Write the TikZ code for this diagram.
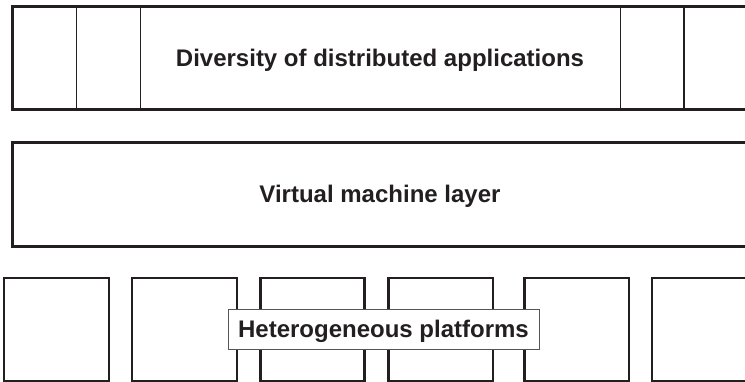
\documentclass[tikz,border=0pt]{standalone}
\usepackage{fontspec}
\setmainfont{Liberation Sans}
\definecolor{ink}{HTML}{231F20}
\definecolor{frame}{HTML}{555555}
\begin{document}
\begin{tikzpicture}[x=1pt,y=-1pt,
  layer/.style={draw=ink,line width=3pt},
  divider/.style={draw=ink,line width=1.6pt},
  platform/.style={draw=ink,line width=2.4pt},
  title/.style={font=\bfseries\fontsize{24}{28}\selectfont,text=ink,inner sep=0pt,anchor=base},
  tagbox/.style={draw=frame,line width=1pt,fill=white}]
  \useasboundingbox (0,0) rectangle (745,382);
  \clip (0,0) rectangle (745,382);

  % applications layer with its column separators
  \draw[layer] (12.5,6.2) rectangle (760,109.7);
  \foreach \x in {76.5,140.5,620.5,684.2}
    \draw[divider] (\x,6.2) -- (\x,109.7);
  \node[title] (apps) at (380,66.8) {Diversity of distributed applications};

  % virtual machine layer
  \draw[layer] (12.5,142.2) rectangle (760,246.2);
  \node[title] (vm) at (380,203) {Virtual machine layer};

  % platform boxes
  \foreach \l/\r [count=\i] in {4.2/108.7,132.2/236.8,260.5/364.5,388.5/492.8,524.5/628.8,652.2/760}
    \draw[platform] (\l,278) rectangle (\r,381);

  % label laid over the platforms
  \draw[tagbox] (228.5,310) rectangle (539,349.3);
  \node[title] (plat) at (383.5,337.3) {Heterogeneous platforms};
\end{tikzpicture}
\end{document}
